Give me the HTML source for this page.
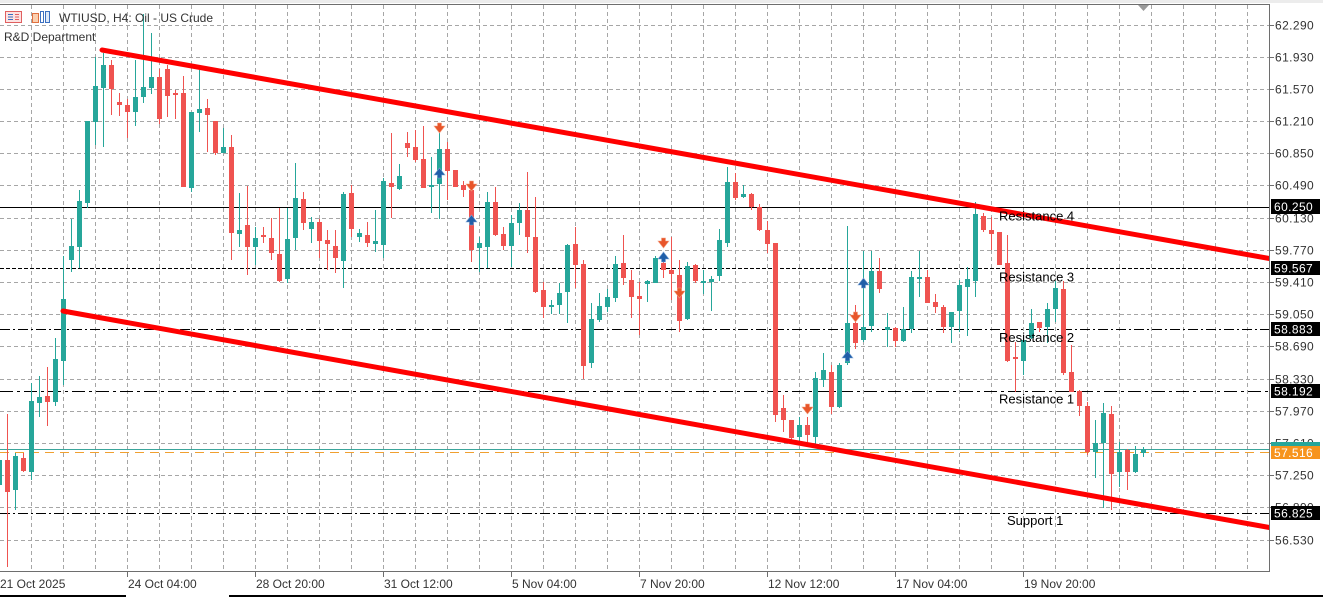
<!DOCTYPE html>
<html>
<head>
<meta charset="utf-8">
<style>
html,body{margin:0;padding:0;background:#fff;}
body{width:1323px;height:597px;overflow:hidden;}
svg{display:block;}
text{font-family:"Liberation Sans",Arial,sans-serif;}
</style>
</head>
<body>
<svg width="1323" height="597" viewBox="0 0 1323 597" xmlns="http://www.w3.org/2000/svg">
<defs>
<clipPath id="plot"><rect x="0" y="5" width="1269" height="566"/></clipPath>
</defs>
<rect x="0" y="0" width="1323" height="597" fill="#fff"/>
<rect x="0" y="0" width="1323" height="3" fill="#ececec"/>

<g clip-path="url(#plot)">
<g stroke="#a6a6a6" stroke-width="1" stroke-dasharray="4,3" shape-rendering="crispEdges">
<path d="M0 25.5H1269M0 57.5H1269M0 89.5H1269M0 121.5H1269M0 153.5H1269M0 185.5H1269M0 218.5H1269M0 250.5H1269M0 282.5H1269M0 314.5H1269M0 346.5H1269M0 379.5H1269M0 411.5H1269M0 443.5H1269M0 475.5H1269M0 507.5H1269M0 540.5H1269"/>
<path d="M31.5 5V571M63.5 5V571M95.5 5V571M127.5 5V571M159.5 5V571M191.5 5V571M223.5 5V571M255.5 5V571M287.5 5V571M319.5 5V571M351.5 5V571M383.5 5V571M415.5 5V571M447.5 5V571M479.5 5V571M511.5 5V571M543.5 5V571M575.5 5V571M607.5 5V571M639.5 5V571M671.5 5V571M703.5 5V571M735.5 5V571M767.5 5V571M799.5 5V571M831.5 5V571M863.5 5V571M895.5 5V571M927.5 5V571M959.5 5V571M991.5 5V571M1023.5 5V571M1055.5 5V571M1087.5 5V571M1119.5 5V571M1151.5 5V571M1183.5 5V571M1215.5 5V571M1247.5 5V571"/>
</g>

<g stroke="#000" stroke-width="1" fill="none" shape-rendering="crispEdges">
<path d="M0 207.5H1269"/>
<path d="M0 268.5H1269" stroke-dasharray="4,2"/>
<path d="M0 329.5H1269" stroke-dasharray="10,3,2,3"/>
<path d="M0 391.5H1269" stroke-dasharray="13,4,3,4"/>
<path d="M0 513.5H1269" stroke-dasharray="10,3,2,3"/>
</g>
<path d="M0 449.5H1269" stroke="#3aa59b" stroke-width="1" shape-rendering="crispEdges"/>
<path d="M0 452.5H1269" stroke="#f0a030" stroke-width="1" stroke-dasharray="9,6" shape-rendering="crispEdges"/>

<path fill="none" stroke="#26a69a" stroke-width="1" shape-rendering="crispEdges" d="M-0.5 455V505 M15.5 453V510 M31.5 383V480 M39.5 376V417 M55.5 338V406 M63.5 256V385 M71.5 219V272 M79.5 190V268 M87.5 121V208 M95.5 57V145 M103.5 53V147 M135.5 60V126 M143.5 14V103 M151.5 33V94 M191.5 112V192 M199.5 70V132 M223.5 128V153 M239.5 193V247 M255.5 227V265 M287.5 208V283 M295.5 163V250 M311.5 217V243 M343.5 192V288 M359.5 229V242 M375.5 210V252 M383.5 178V258 M399.5 164V190 M431.5 157V213 M439.5 133V219 M479.5 237V272 M487.5 192V268 M511.5 215V267 M519.5 203V235 M551.5 300V314 M559.5 283V314 M567.5 244V323 M591.5 303V368 M599.5 293V322 M607.5 289V312 M615.5 256V302 M647.5 280V302 M655.5 256V283 M687.5 262V320 M703.5 270V294 M711.5 276V311 M719.5 229V281 M727.5 167V247 M743.5 185V198 M799.5 417V442 M815.5 372V445 M823.5 353V387 M839.5 363V408 M847.5 226V365 M863.5 251V342 M871.5 251V332 M887.5 313V347 M903.5 307V342 M911.5 271V333 M919.5 251V297 M951.5 312V343 M959.5 280V332 M967.5 267V336 M975.5 202V297 M1023.5 335V375 M1031.5 309V339 M1047.5 303V343 M1055.5 281V322 M1095.5 420V478 M1103.5 403V508 M1119.5 442V487 M1135.5 446V473 M1143.5 447V457"/>
<path fill="#26a69a" shape-rendering="crispEdges" d="M-3 460h5v25h-5z M13 456h5v34h-5z M29 401h5v71h-5z M37 397h5v6h-5z M53 359h5v43h-5z M61 299h5v62h-5z M69 246h5v14h-5z M77 201h5v46h-5z M85 121h5v82h-5z M93 86h5v36h-5z M101 65h5v23h-5z M133 97h5v15h-5z M141 87h5v10h-5z M149 77h5v11h-5z M189 112h5v76h-5z M197 109h5v4h-5z M221 147h5v6h-5z M237 230h5v4h-5z M253 238h5v9h-5z M285 239h5v40h-5z M293 198h5v40h-5z M309 222h5v7h-5z M341 194h5v67h-5z M357 233h5v4h-5z M373 241h5v3h-5z M381 181h5v64h-5z M397 176h5v13h-5z M429 185h5v2h-5z M437 149h5v35h-5z M477 243h5v5h-5z M485 202h5v45h-5z M509 223h5v23h-5z M517 210h5v13h-5z M549 305h5v2h-5z M557 293h5v12h-5z M565 245h5v47h-5z M589 319h5v44h-5z M597 306h5v14h-5z M605 297h5v10h-5z M613 264h5v34h-5z M645 281h5v3h-5z M653 258h5v25h-5z M685 266h5v53h-5z M701 281h5v2h-5z M709 279h5v3h-5z M717 240h5v36h-5z M725 182h5v61h-5z M741 194h5v3h-5z M797 425h5v12h-5z M813 378h5v59h-5z M821 370h5v10h-5z M837 365h5v42h-5z M845 323h5v40h-5z M861 327h5v13h-5z M869 271h5v55h-5z M885 327h5v3h-5z M901 329h5v12h-5z M909 277h5v52h-5z M917 277h5v2h-5z M949 312h5v15h-5z M957 285h5v26h-5z M965 279h5v8h-5z M973 214h5v67h-5z M1021 340h5v21h-5z M1029 323h5v15h-5z M1045 309h5v18h-5z M1053 288h5v21h-5z M1093 443h5v9h-5z M1101 413h5v30h-5z M1117 452h5v20h-5z M1133 454h5v18h-5z M1141 449h5v4h-5z"/>

<path fill="none" stroke="#ef5350" stroke-width="1" shape-rendering="crispEdges" d="M7.5 414V567 M23.5 453V472 M47.5 367V426 M111.5 60V115 M119.5 93V116 M127.5 99V138 M159.5 69V124 M167.5 65V117 M175.5 90V119 M183.5 76V187 M207.5 99V152 M215.5 121V155 M231.5 135V260 M247.5 186V275 M263.5 227V243 M271.5 218V260 M279.5 208V282 M303.5 192V230 M319.5 219V258 M327.5 230V270 M335.5 230V273 M351.5 185V237 M367.5 222V247 M391.5 133V218 M407.5 132V157 M415.5 130V162 M423.5 126V188 M447.5 142V200 M455.5 170V187 M463.5 181V197 M471.5 187V262 M495.5 187V236 M503.5 227V250 M527.5 172V253 M535.5 197V293 M543.5 282V318 M575.5 227V288 M583.5 260V379 M623.5 235V285 M631.5 270V318 M639.5 282V335 M663.5 256V278 M671.5 237V300 M679.5 260V332 M695.5 264V283 M735.5 173V200 M751.5 193V210 M759.5 204V231 M767.5 221V253 M775.5 243V422 M783.5 395V432 M791.5 420V440 M807.5 417V442 M831.5 365V414 M855.5 305V349 M879.5 258V293 M895.5 327V347 M927.5 270V303 M935.5 294V313 M943.5 305V333 M983.5 213V232 M991.5 217V250 M999.5 232V265 M1007.5 235V362 M1015.5 342V392 M1039.5 322V332 M1063.5 281V375 M1071.5 345V392 M1079.5 390V416 M1087.5 402V455 M1111.5 406V510 M1127.5 449V490"/>
<path fill="#ef5350" shape-rendering="crispEdges" d="M5 460h5v32h-5z M21 458h5v13h-5z M45 396h5v6h-5z M109 65h5v24h-5z M117 102h5v3h-5z M125 105h5v7h-5z M157 77h5v42h-5z M165 69h5v27h-5z M173 93h5v2h-5z M181 93h5v94h-5z M205 108h5v7h-5z M213 121h5v32h-5z M229 147h5v86h-5z M245 225h5v22h-5z M261 235h5v2h-5z M269 238h5v15h-5z M277 254h5v27h-5z M301 199h5v24h-5z M317 222h5v19h-5z M325 240h5v4h-5z M333 246h5v12h-5z M349 193h5v36h-5z M365 235h5v8h-5z M389 183h5v4h-5z M405 143h5v5h-5z M413 147h5v13h-5z M421 159h5v29h-5z M445 149h5v22h-5z M453 170h5v17h-5z M461 185h5v5h-5z M469 190h5v60h-5z M493 202h5v33h-5z M501 234h5v12h-5z M525 210h5v27h-5z M533 237h5v55h-5z M541 290h5v17h-5z M573 244h5v21h-5z M581 264h5v102h-5z M621 263h5v15h-5z M629 280h5v17h-5z M637 296h5v3h-5z M661 263h5v7h-5z M669 270h5v4h-5z M677 275h5v46h-5z M693 265h5v16h-5z M733 182h5v16h-5z M749 194h5v13h-5z M757 207h5v23h-5z M765 230h5v14h-5z M773 243h5v172h-5z M781 408h5v12h-5z M789 420h5v18h-5z M805 425h5v10h-5z M829 372h5v35h-5z M853 323h5v20h-5z M877 271h5v18h-5z M893 328h5v13h-5z M925 277h5v26h-5z M933 302h5v5h-5z M941 307h5v20h-5z M981 216h5v14h-5z M989 230h5v4h-5z M997 232h5v33h-5z M1005 263h5v98h-5z M1013 357h5v2h-5z M1037 322h5v6h-5z M1061 289h5v84h-5z M1069 372h5v20h-5z M1077 391h5v15h-5z M1085 406h5v46h-5z M1109 414h5v60h-5z M1125 450h5v22h-5z"/>

<g fill="#e8552a" stroke="#f3a080" stroke-width="0.6">
<path transform="translate(439.5,129)" d="M-2,-6h4v3h3.5l-5.5,7l-5.5,-7h3.5z"/>
<path transform="translate(471.5,187)" d="M-2,-6h4v3h3.5l-5.5,7l-5.5,-7h3.5z"/>
<path transform="translate(663.5,244)" d="M-2,-6h4v3h3.5l-5.5,7l-5.5,-7h3.5z"/>
<path transform="translate(679.5,294)" d="M-2,-6h4v3h3.5l-5.5,7l-5.5,-7h3.5z"/>
<path transform="translate(807.5,410)" d="M-2,-6h4v3h3.5l-5.5,7l-5.5,-7h3.5z"/>
<path transform="translate(855.5,318)" d="M-2,-6h4v3h3.5l-5.5,7l-5.5,-7h3.5z"/>
</g>
<g fill="#1f5ea8" stroke="#7fa6d6" stroke-width="0.6">
<path transform="translate(439.5,172)" d="M-2,6h4v-3h3.5l-5.5,-7l-5.5,7h3.5z"/>
<path transform="translate(471.5,219)" d="M-2,6h4v-3h3.5l-5.5,-7l-5.5,7h3.5z"/>
<path transform="translate(663.5,256)" d="M-2,6h4v-3h3.5l-5.5,-7l-5.5,7h3.5z"/>
<path transform="translate(847.5,355)" d="M-2,6h4v-3h3.5l-5.5,-7l-5.5,7h3.5z"/>
<path transform="translate(863.5,282)" d="M-2,6h4v-3h3.5l-5.5,-7l-5.5,7h3.5z"/>
</g>

<g stroke="#ff0000" stroke-width="5" stroke-linecap="round" fill="none">
<line x1="102" y1="50" x2="1272" y2="259"/>
<line x1="63" y1="311" x2="1272" y2="528"/>
</g>

<g font-size="13" fill="#000">
<text x="999" y="220.5">Resistance 4</text>
<text x="999" y="281.5">Resistance 3</text>
<text x="999" y="342">Resistance 2</text>
<text x="999" y="403.5">Resistance 1</text>
<text x="1007" y="525">Support 1</text>
</g>
</g>

<g stroke="#6e6e6e" stroke-width="1" fill="none" shape-rendering="crispEdges">
<path d="M0 4.5H1269.5V571.5H0"/>
</g>
<path d="M1138 5h11l-5.5,6z" fill="#9a9a9a"/>

<path stroke="#6e6e6e" stroke-width="1" shape-rendering="crispEdges" d="M1269 25.5h5M1269 57.5h5M1269 89.5h5M1269 121.5h5M1269 153.5h5M1269 185.5h5M1269 218.5h5M1269 250.5h5M1269 282.5h5M1269 314.5h5M1269 346.5h5M1269 379.5h5M1269 411.5h5M1269 443.5h5M1269 475.5h5M1269 507.5h5M1269 540.5h5"/>
<g font-size="12" fill="#333" letter-spacing="0.4">
<text x="1275" y="29.5">62.290</text>
<text x="1275" y="61.5">61.930</text>
<text x="1275" y="93.5">61.570</text>
<text x="1275" y="125.5">61.210</text>
<text x="1275" y="157.5">60.850</text>
<text x="1275" y="189.5">60.490</text>
<text x="1275" y="222.5">60.130</text>
<text x="1275" y="254.5">59.770</text>
<text x="1275" y="286.5">59.410</text>
<text x="1275" y="318.5">59.050</text>
<text x="1275" y="350.5">58.690</text>
<text x="1275" y="383.5">58.330</text>
<text x="1275" y="415.5">57.970</text>
<text x="1275" y="447.5">57.610</text>
<text x="1275" y="479.5">57.250</text>
<text x="1275" y="511.5">56.890</text>
<text x="1275" y="544.5">56.530</text>
</g>

<g shape-rendering="crispEdges">
<rect x="1271" y="199" width="49" height="15" fill="#000"/>
<rect x="1271" y="261" width="49" height="14" fill="#000"/>
<rect x="1271" y="322" width="49" height="14" fill="#000"/>
<rect x="1271" y="384" width="49" height="14" fill="#000"/>
<rect x="1271" y="442" width="49" height="13" fill="#26a69a"/>
<rect x="1271" y="446" width="49" height="13" fill="#f7941d"/>
<rect x="1271" y="506" width="49" height="14" fill="#000"/>
</g>
<g font-size="12" fill="#fff" letter-spacing="0.4">
<text x="1274" y="211">60.250</text>
<text x="1274" y="272.5">59.567</text>
<text x="1274" y="333.5">58.883</text>
<text x="1274" y="395.5">58.192</text>
<text x="1274" y="457">57.516</text>
<text x="1274" y="517.5">56.825</text>
</g>

<path stroke="#6e6e6e" stroke-width="1" shape-rendering="crispEdges" d="M127.5 571v6M255.5 571v6M383.5 571v6M511.5 571v6M639.5 571v6M767.5 571v6M895.5 571v6M1023.5 571v6"/>
<g font-size="12" fill="#333">
<text x="0" y="588">21 Oct 2025</text>
<text x="128" y="588">24 Oct 04:00</text>
<text x="256" y="588">28 Oct 20:00</text>
<text x="384" y="588">31 Oct 12:00</text>
<text x="512" y="588">5 Nov 04:00</text>
<text x="640" y="588">7 Nov 20:00</text>
<text x="768" y="588">12 Nov 12:00</text>
<text x="896" y="588">17 Nov 04:00</text>
<text x="1024" y="588">19 Nov 20:00</text>
</g>
<rect x="0" y="595" width="126" height="2" fill="#000"/>
<rect x="229" y="595" width="1094" height="2" fill="#000"/>

<g shape-rendering="crispEdges">
<rect x="5.5" y="11.5" width="16" height="11" fill="#fde3e3" stroke="#e06060"/>
<path d="M8 14.5h5M8 17h5M8 19.5h5" stroke="#3a6fc0"/>
<path d="M15 14.5h4M15 17h4M15 19.5h4" stroke="#e06060"/>
<rect x="32.5" y="13.5" width="6" height="9" fill="#fbd0b0" stroke="#e07040"/>
<rect x="40.5" y="11.5" width="3" height="11" fill="none" stroke="#3a6fc0"/>
<rect x="45.5" y="11.5" width="4" height="11" fill="#dce8f8" stroke="#3a6fc0"/>
</g>
<text x="59" y="22" font-size="12" fill="#333">WTIUSD, H4:  Oil - US Crude</text>
<text x="4" y="41" font-size="12" fill="#333">R&amp;D Department</text>
</svg>
</body>
</html>
